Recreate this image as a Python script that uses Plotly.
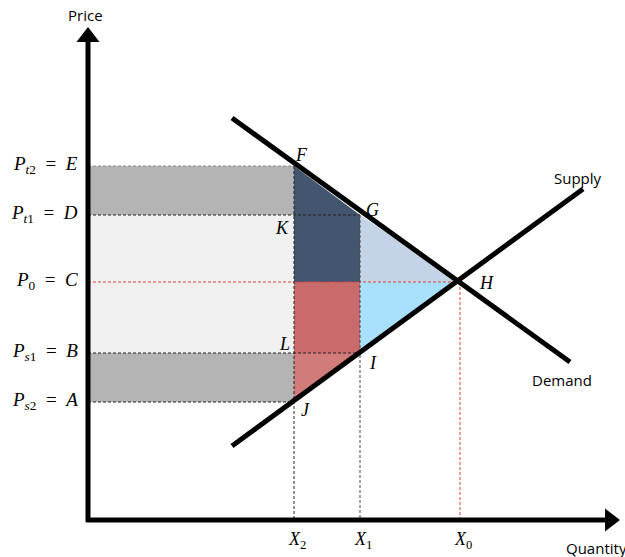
import plotly.graph_objects as go

# ============================================
# DATA (quantity / price positions of the diagram)
# ============================================
q_names = ["X_2", "X_1", "X_0"]
q_vals = [206, 272, 372]            # X2, X1, X0

p_names = ["E", "D", "C", "B", "A"]
p_subs = ["t2", "t1", "0", "s1", "s2"]
p_vals = [354, 305, 238, 167, 118]  # E, D, C, B, A

demand_q = [144, 482]
demand_p = [402, 158]
supply_q = [144, 495]
supply_p = [74, 331]

X2, X1, X0 = q_vals
E, D, C, B, A = p_vals

# point labels: name, quantity, price
pt_names = ["F", "G", "K", "H", "L", "I", "J"]
pt_q = [213, 284, 194, 398, 196, 285, 217]
pt_p = [365, 310, 292, 237, 176, 157, 110]

# axis extent (arrow tips)
q_max = 532
p_max = 493

SERIF = "Liberation Serif"
SANS = "Open Sans"

fig = go.Figure()


def poly(xs, ys, color):
    fig.add_trace(go.Scatter(
        x=xs + [xs[0]], y=ys + [ys[0]], fill="toself", fillcolor=color,
        mode="lines", line=dict(width=0), hoverinfo="skip", showlegend=False))


# grey bands on the price axis
poly([0, X2, X2, 0], [E, E, D, D], "#b4b4b4")
poly([0, X2, X2, 0], [D, D, B, B], "#f1f1f1")
poly([0, X2, X2, 0], [B, B, A, A], "#b4b4b4")

# welfare areas
poly([X2, X1, X1, X2], [E, D, C, C], "#44566f")
poly([X1, X0, X1], [D, C, C], "#c4d3e6")
poly([X1, X0, X1], [C, C, B], "#a8e0fe")
poly([X2, X1, X1, X2], [C, C, B, B], "#c96b6b")
poly([X2, X1, X2], [B, B, A], "#d27b7b")


def dashed(xs, ys, color):
    fig.add_trace(go.Scatter(
        x=xs, y=ys, mode="lines", line=dict(color=color, width=1, dash="3px,2px"),
        hoverinfo="skip", showlegend=False))


# guide lines
dashed([0, X2], [E, E], "#8a8a8a")
dashed([0, X1], [D, D], "#222222")
dashed([0, X0], [C, C], "#e0403a")
dashed([0, X1], [B, B], "#222222")
dashed([0, X2], [A, A], "#222222")
dashed([X2, X2], [E, 0], "#222222")
dashed([X1, X1], [D, 0], "#444444")
dashed([X0, X0], [C, 0], "#e0403a")

# demand and supply
fig.add_trace(go.Scatter(x=demand_q, y=demand_p, mode="lines",
                         line=dict(color="black", width=5), showlegend=False))
fig.add_trace(go.Scatter(x=supply_q, y=supply_p, mode="lines",
                         line=dict(color="black", width=5), showlegend=False))

# axes with arrow heads
fig.add_trace(go.Scatter(x=[-2, 0, None, 0, q_max - 14], y=[0, 0, None, 0, 0],
                         mode="lines", line=dict(color="black", width=5),
                         hoverinfo="skip", showlegend=False))
fig.add_trace(go.Scatter(x=[0, 0], y=[-2, p_max - 14], mode="lines",
                         line=dict(color="black", width=5),
                         hoverinfo="skip", showlegend=False))
fig.add_trace(go.Scatter(x=[0], y=[p_max - 10], mode="markers",
                         marker=dict(symbol="triangle-up", size=20, color="black"),
                         hoverinfo="skip", showlegend=False))
fig.add_trace(go.Scatter(x=[q_max - 10], y=[0], mode="markers",
                         marker=dict(symbol="triangle-right", size=20, color="black"),
                         hoverinfo="skip", showlegend=False))

fig.add_annotation(x=-3, y=505, text="Price", showarrow=False,
                   font=dict(family=SANS, size=15, color="black"))
fig.add_annotation(x=508, y=-28, text="Quantity", showarrow=False,
                   font=dict(family=SANS, size=15, color="black"))
fig.add_annotation(x=490, y=342, text="Supply", showarrow=False,
                   font=dict(family=SANS, size=15, color="black"))
fig.add_annotation(x=474, y=140, text="Demand", showarrow=False,
                   font=dict(family=SANS, size=15, color="black"))

# price labels
for name, sub, p in zip(p_names, p_subs, p_vals):
    sub_html = "".join(f"<i>{c}</i>" if c.isalpha() else c for c in sub)
    fig.add_annotation(x=-8, y=p + 1, xanchor="right",
                       text=f"<i>P</i><sub>{sub_html}</sub>&nbsp;&nbsp;=&nbsp;&nbsp;<i>{name}</i>",
                       showarrow=False, font=dict(family=SERIF, size=19, color="black"))

# quantity labels
for name, q in zip(q_names, q_vals):
    base, sub = name.split("_")
    fig.add_annotation(x=q + 3, y=-20, text=f"<i>{base}</i><sub>{sub}</sub>",
                       showarrow=False, font=dict(family=SERIF, size=18, color="black"))

# point labels
for name, q, p in zip(pt_names, pt_q, pt_p):
    fig.add_annotation(x=q, y=p, text=f"<i>{name}</i>", showarrow=False,
                       font=dict(family=SERIF, size=18, color="black"))

fig.update_layout(
    width=625, height=557,
    margin=dict(l=0, r=0, t=0, b=0),
    paper_bgcolor="white", plot_bgcolor="white",
    xaxis=dict(range=[-88, 537], visible=False, fixedrange=True),
    yaxis=dict(range=[-37, 520], visible=False, fixedrange=True),
    showlegend=False,
)

# the page body has a default 8px margin; remove it so the figure fills the window
fig.write_html("out.html", config={"displayModeBar": False},
               post_script="document.body.style.margin='0';")
